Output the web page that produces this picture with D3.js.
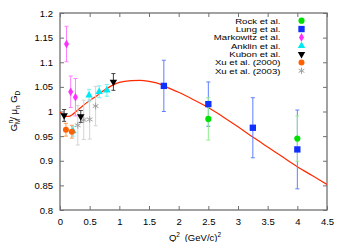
<!DOCTYPE html>
<html><head><meta charset="utf-8">
<script src="https://cdn.jsdelivr.net/npm/d3@7"></script>
<style>body{margin:0;background:#fff}svg{display:block}text{font-family:"Liberation Sans",Arial,sans-serif}</style>
</head><body>
<svg id="c" width="346" height="242"></svg>
<script>
// Data (Q^2, value, error)
const rock = [[2.5, 0.985, 0.043], [4.0, 0.945, 0.046]];
const lung = [[1.75, 1.052, 0.052], [2.5, 1.015, 0.045], [3.25, 0.967, 0.061], [4.0, 0.923, 0.08]];
const markowitz = [[0.11, 1.137, 0.036], [0.18, 1.040, 0.032], [0.26, 1.029, 0.038]];
const anklin = [[0.22, 0.960, 0.01], [0.49, 1.033, 0.012], [0.66, 1.040, 0.012], [0.79, 1.043, 0.012]];
const kubon = [[0.07, 0.992, 0.012], [0.35, 0.990, 0.012], [0.90, 1.060, 0.017]];
const xu2000 = [[0.10, 0.963, 0.013], [0.20, 0.959, 0.013]];
const xu2003 = [[0.30, 0.972, 0.04], [0.40, 0.983, 0.04], [0.50, 0.984, 0.04], [0.60, 1.011, 0.04]];
const fitQ2 = [0, 0.05, 0.1, 0.15, 0.2, 0.27, 0.35, 0.44, 0.52, 0.61, 0.72, 0.85, 1.0, 1.2, 1.35, 1.5, 1.7, 1.75, 2.0, 2.25, 2.5, 2.75, 3.0, 3.25, 3.5, 3.75, 4.0, 4.25, 4.5];
const fitVal = [0.999, 0.993, 0.990, 0.990, 0.993, 1.000, 1.008, 1.017, 1.024, 1.031, 1.041, 1.051, 1.059, 1.0625, 1.063, 1.061, 1.055, 1.052, 1.039, 1.024, 1.008, 0.989, 0.969, 0.948, 0.928, 0.908, 0.888, 0.870, 0.852];
const xTicks = [0, 0.5, 1, 1.5, 2, 2.5, 3, 3.5, 4, 4.5];
const yTicks = [0.8, 0.85, 0.9, 0.95, 1, 1.05, 1.1, 1.15, 1.2];
const legendNames = ["Rock et al.", "Lung et al.", "Markowitz et al.", "Anklin et al.", "Kubon et al.", "Xu et al. (2000)", "Xu et al. (2003)"];

const svg = d3.select("#c");
const L = 60, R = 327, T = 13, B = 210;
const x = d3.scaleLinear().domain([0, 4.5]).range([L, R]);
const y = d3.scaleLinear().domain([0.8, 1.2]).range([B, T]);
const frame = "#707070";

// axes
const gx = svg.append("g").attr("transform", `translate(0,${B})`)
  .call(d3.axisBottom(x).tickValues(xTicks).tickSize(-4).tickPadding(8).tickFormat(d3.format("")));
const gy = svg.append("g").attr("transform", `translate(${L},0)`)
  .call(d3.axisLeft(y).tickValues(yTicks).tickSize(-4).tickPadding(7).tickFormat(d3.format("")));
const gt = svg.append("g").attr("transform", `translate(0,${T})`)
  .call(d3.axisTop(x).tickValues(xTicks).tickSize(-4).tickFormat(""));
const gr = svg.append("g").attr("transform", `translate(${R},0)`)
  .call(d3.axisRight(y).tickValues(yTicks).tickSize(-4).tickFormat(""));
[gx, gy, gt, gr].forEach(g => {
  g.select(".domain").remove();
  g.selectAll("line").attr("stroke", frame);
  g.selectAll("text").attr("font-size", 9.5).attr("fill", "#000");
});
svg.append("rect").attr("x", L).attr("y", T).attr("width", R - L).attr("height", B - T)
  .attr("fill", "none").attr("stroke", frame).attr("stroke-width", 1.3);

// fit curve
const clipId = "clip";
svg.append("clipPath").attr("id", clipId).append("rect").attr("x", L).attr("y", T).attr("width", R - L).attr("height", B - T);
const fit = fitQ2.map((q, i) => [q, fitVal[i]]);
svg.append("path").datum(fit).attr("clip-path", `url(#${clipId})`)
  .attr("d", d3.line().curve(d3.curveMonotoneX).x(d => x(d[0])).y(d => y(d[1])))
  .attr("fill", "none").attr("stroke", "#ff2a00").attr("stroke-width", 1.2);

// series
const series = [
  {d: rock, c: "#00e000", e: "#90ee90", s: d3.symbolCircle, sz: 30},
  {d: lung, c: "#1030ff", e: "#6080ff", s: d3.symbolSquare, sz: 40},
  {d: markowitz, c: "#ff30ff", e: "#ff80ff", s: d3.symbolDiamond, sz: 22},
  {d: anklin, c: "#00e8f0", e: "#70f0f0", s: d3.symbolTriangle, sz: 24},
  {d: kubon, c: "#000000", e: "#404040", s: d3.symbolTriangle, sz: 24, rot: 180},
  {d: xu2000, c: "#ff6000", e: "#ff9a50", s: d3.symbolCircle, sz: 28},
  {d: xu2003, c: "#a0a0a0", e: "#d4d4d4", s: d3.symbolAsterisk, sz: 30}
];
const order = [6, 3, 2, 5, 4, 1, 0];
order.forEach(k => {
  const sr = series[k];
  const g = svg.append("g");
  sr.d.forEach(p => {
    const cx = x(p[0]);
    g.append("line").attr("x1", cx).attr("x2", cx).attr("y1", y(p[1] - p[2])).attr("y2", y(p[1] + p[2]))
      .attr("stroke", sr.e).attr("stroke-width", 1);
    [p[1] - p[2], p[1] + p[2]].forEach(v => g.append("line").attr("x1", cx - 2).attr("x2", cx + 2)
      .attr("y1", y(v)).attr("y2", y(v)).attr("stroke", sr.e).attr("stroke-width", 1));
  });
});
function mark(g, sr, cx, cy) {
  const p = g.append("path").attr("d", d3.symbol().type(sr.s).size(sr.sz)())
    .attr("transform", `translate(${cx},${cy})` + (sr.rot ? ` rotate(${sr.rot})` : ""));
  if (sr.s === d3.symbolAsterisk) p.attr("fill", "none").attr("stroke", sr.c).attr("stroke-width", 1);
  else p.attr("fill", sr.c);
}
order.forEach(k => {
  const sr = series[k];
  const g = svg.append("g");
  sr.d.forEach(p => mark(g, sr, x(p[0]), y(p[1])));
});

// legend (text slightly widened horizontally, like the reference)
legendNames.forEach((n, i) => {
  const ly = 20.7 + i * 8.35;
  svg.append("text").attr("transform", `translate(280.5,${ly}) scale(1.2,1)`).attr("dy", "0.35em")
    .attr("text-anchor", "end").attr("font-size", 8).text(n);
  mark(svg.append("g"), series[i], 301.5, ly);
});

// axis labels
const xl = svg.append("text").attr("x", 195).attr("y", 241).attr("text-anchor", "middle").attr("font-size", 9.5);
xl.append("tspan").text("Q");
xl.append("tspan").attr("font-size", 6.5).attr("dy", -4).text("2");
xl.append("tspan").attr("dy", 4).text("\u2002(GeV/c)");
xl.append("tspan").attr("font-size", 6.5).attr("dy", -4).text("2");

const yl = svg.append("text").attr("transform", "translate(17,111) rotate(-90)").attr("text-anchor", "middle").attr("font-size", 9.5);
yl.append("tspan").text("G");
yl.append("tspan").attr("font-size", 6.5).attr("dy", 3).text("M");
yl.append("tspan").attr("font-size", 6.5).attr("dy", -7).attr("dx", -5).text("n");
yl.append("tspan").attr("dy", 4).text("/ \u03bc");
yl.append("tspan").attr("font-size", 6.5).attr("dy", 3).text("n");
yl.append("tspan").attr("dy", -3).text(" G");
yl.append("tspan").attr("font-size", 6.5).attr("dy", 3).text("D");
</script>
</body></html>
